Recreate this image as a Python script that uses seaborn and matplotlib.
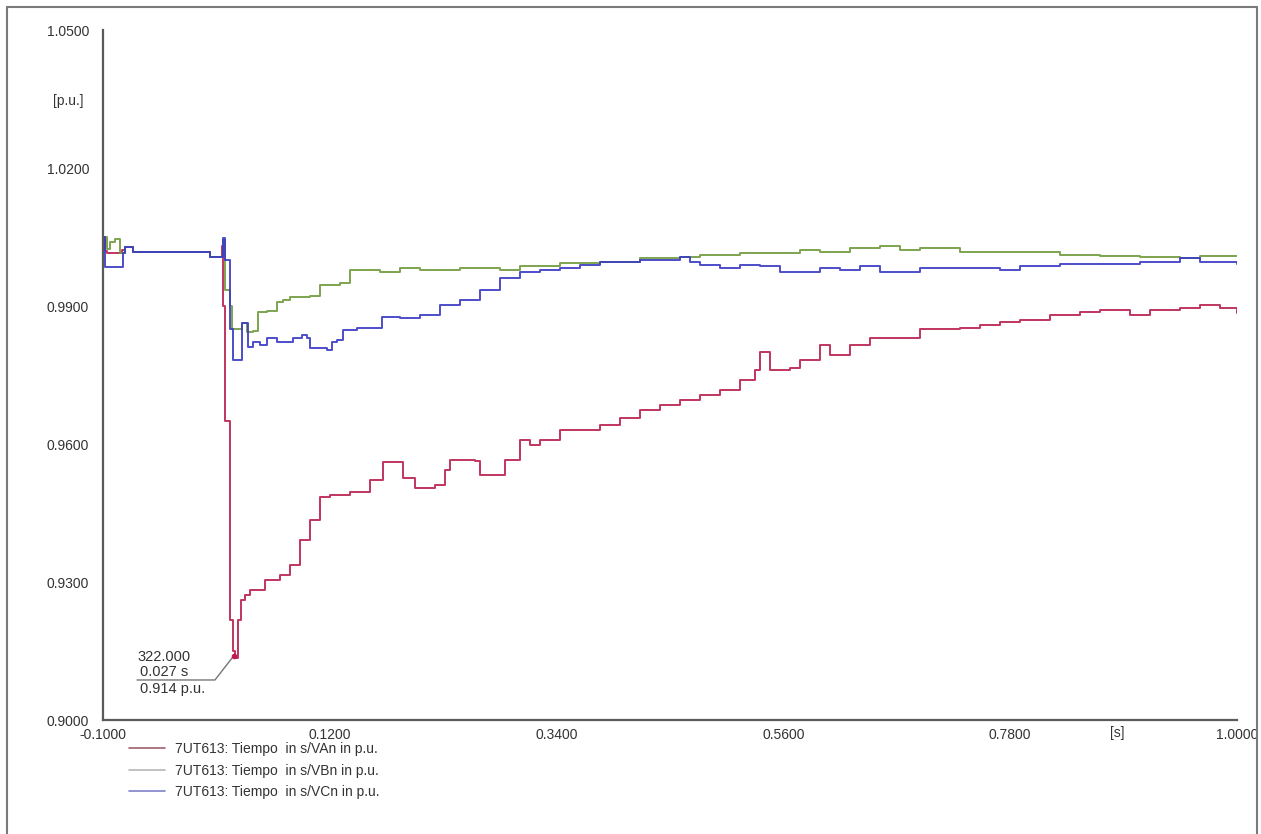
import numpy as np
import pandas as pd
import matplotlib
matplotlib.use("Agg")
import matplotlib.pyplot as plt
from matplotlib.lines import Line2D
import seaborn as sns

# ---------------- data ----------------
t_van = [-0.1, -0.0981, -0.0961, -0.0864, -0.0815, -0.0787, -0.0709, -0.003, 0.0038, 0.0135,
         0.0154, 0.0164, 0.0183, 0.0232, 0.0261, 0.028, 0.0309, 0.0338, 0.0377, 0.0426,
         0.0571, 0.0717, 0.0814, 0.0911, 0.1008, 0.1105, 0.1202, 0.1396, 0.159, 0.1716,
         0.191, 0.2026, 0.222, 0.2317, 0.2366, 0.2608, 0.2657, 0.2899, 0.3045, 0.3142,
         0.3239, 0.3433, 0.3627, 0.3821, 0.4015, 0.4208, 0.4402, 0.4597, 0.479, 0.4985,
         0.5178, 0.5324, 0.5372, 0.5469, 0.5663, 0.576, 0.5954, 0.6051, 0.6245, 0.6439,
         0.673, 0.6924, 0.7118, 0.7312, 0.7506, 0.77, 0.7894, 0.8185, 0.8476, 0.867,
         0.8961, 0.9155, 0.9446, 0.964, 0.9834, 1.0]
v_van = [1.005, 1.002, 1.0015, 1.0015, 1.0022, 1.0028, 1.0017, 1.0017, 1.0007, 1.0007,
         1.003, 0.99, 0.965, 0.9217, 0.915, 0.9135, 0.9217, 0.9261, 0.9272, 0.9283,
         0.9304, 0.9315, 0.9337, 0.9391, 0.9435, 0.9485, 0.9489, 0.9495, 0.9522, 0.9561,
         0.9526, 0.9504, 0.951, 0.9543, 0.9565, 0.9562, 0.9533, 0.9565, 0.9609, 0.9598,
         0.9609, 0.963, 0.963, 0.9641, 0.9657, 0.9674, 0.9685, 0.9696, 0.9707, 0.9717,
         0.9739, 0.9761, 0.98, 0.9761, 0.9765, 0.9783, 0.9815, 0.9793, 0.9815, 0.983,
         0.983, 0.985, 0.985, 0.9852, 0.9859, 0.9865, 0.987, 0.988, 0.9887, 0.9891,
         0.988, 0.9891, 0.9896, 0.9902, 0.9896, 0.9885]

t_vbn = [-0.1, -0.0961, -0.0932, -0.0884, -0.0835, -0.0787, -0.0709, -0.003, 0.0038, 0.0135,
         0.0164, 0.0183, 0.0232, 0.0251, 0.0348, 0.0397, 0.0455, 0.0503, 0.0591, 0.0688,
         0.0746, 0.0814, 0.1008, 0.1105, 0.1299, 0.1396, 0.1687, 0.1881, 0.2075, 0.2269,
         0.2463, 0.2657, 0.2851, 0.3045, 0.3433, 0.3821, 0.4208, 0.4597, 0.479, 0.5178,
         0.5372, 0.576, 0.5954, 0.6245, 0.6536, 0.673, 0.6924, 0.7312, 0.77, 0.7991,
         0.8282, 0.867, 0.9058, 0.9446, 0.964, 1.0]
v_vbn = [1.005, 1.0025, 1.004, 1.0045, 1.0015, 1.0028, 1.0017, 1.0017, 1.0007, 1.0007,
         1.0043, 0.9935, 0.99, 0.985, 0.9863, 0.9843, 0.9845, 0.9887, 0.9889, 0.9909,
         0.9913, 0.992, 0.9922, 0.9946, 0.995, 0.9978, 0.9974, 0.9983, 0.9978, 0.9978,
         0.9983, 0.9983, 0.9978, 0.9987, 0.9993, 0.9996, 1.0004, 1.0007, 1.0011, 1.0015,
         1.0015, 1.0022, 1.0017, 1.0026, 1.003, 1.0022, 1.0026, 1.0017, 1.0017, 1.0017,
         1.0011, 1.0009, 1.0007, 1.0004, 1.0009, 1.0009]

t_vcn = [-0.1, -0.0981, -0.0815, -0.0806, -0.0787, -0.0709, -0.003, 0.0038, 0.0135, 0.0164,
         0.0183, 0.0232, 0.0261, 0.0348, 0.0406, 0.0455, 0.0523, 0.0591, 0.0688, 0.0785,
         0.0843, 0.093, 0.0979, 0.1008, 0.1173, 0.1221, 0.127, 0.1328, 0.1464, 0.1658,
         0.1706, 0.1881, 0.2075, 0.2269, 0.2463, 0.2657, 0.2851, 0.3045, 0.3239, 0.3433,
         0.3627, 0.3821, 0.4208, 0.4597, 0.4693, 0.479, 0.4985, 0.5178, 0.5372, 0.5566,
         0.576, 0.5954, 0.6148, 0.6342, 0.6536, 0.673, 0.6924, 0.7312, 0.77, 0.7894,
         0.8282, 0.867, 0.9058, 0.9446, 0.964, 1.0]
v_vcn = [1.005, 0.9985, 0.9985, 1.0015, 1.0028, 1.0017, 1.0017, 1.0007, 1.0007, 1.0048,
         1.0, 0.985, 0.9783, 0.9863, 0.981, 0.9822, 0.9815, 0.983, 0.9822, 0.9822,
         0.983, 0.9837, 0.983, 0.9809, 0.9804, 0.9822, 0.9826, 0.9848, 0.9852, 0.9852,
         0.9876, 0.9874, 0.988, 0.9902, 0.9913, 0.9935, 0.9961, 0.9974, 0.9978, 0.9983,
         0.9989, 0.9996, 1.0, 1.0007, 0.9996, 0.9989, 0.9983, 0.9989, 0.9987, 0.9974,
         0.9974, 0.9983, 0.9978, 0.9987, 0.9974, 0.9974, 0.9983, 0.9983, 0.9978, 0.9987,
         0.9991, 0.9991, 0.9996, 1.0004, 0.9996, 0.9991]

series_names = ["7UT613: Tiempo  in s/VAn in p.u.",
                "7UT613: Tiempo  in s/VBn in p.u.",
                "7UT613: Tiempo  in s/VCn in p.u."]
x_ticks = [-0.1, 0.12, 0.34, 0.56, 0.78, 1.0]
x_tick_labels = ["-0.1000", "0.1200", "0.3400", "0.5600", "0.7800", "1.0000"]
y_ticks = [0.90, 0.93, 0.96, 0.99, 1.02, 1.05]
y_tick_labels = ["0.9000", "0.9300", "0.9600", "0.9900", "1.0200", "1.0500"]
marker_t, marker_v, marker_n = 0.027, 0.914, 322.000

# ---------------- styling ----------------
sns.set_theme(style="white")
plt.rcParams["font.family"] = ["Liberation Sans", "DejaVu Sans"]

line_colors = ["#b8204e", "#6f9a3c", "#3a3ac4"]
legend_colors = ["#a0606c", "#b4b8b4", "#8080c8"]
text_col = "#333333"
axis_col = "#5a5a5a"

W, H = 1261, 834
fig = plt.figure(figsize=(W / 100, H / 100), dpi=100)
ax = fig.add_axes([103 / W, 1 - 720 / H, (1237 - 103) / W, (720 - 30) / H])

frames = [
    pd.DataFrame({"t": t_van, "v": v_van}),
    pd.DataFrame({"t": t_vbn, "v": v_vbn}),
    pd.DataFrame({"t": t_vcn, "v": v_vcn}),
]
for df, c in zip(frames, line_colors):
    sns.lineplot(data=df, x="t", y="v", ax=ax, color=c, lw=1.4, estimator=None,
                 sort=False, drawstyle="steps-post", alpha=0.9)

ax.set_xlim(-0.1, 1.0)
ax.set_ylim(0.9, 1.05)
ax.set_xticks(x_ticks)
ax.set_xticklabels(x_tick_labels)
ax.set_yticks(y_ticks)
ax.set_yticklabels(y_tick_labels)
ax.set_xticks(np.arange(-0.1, 1.0001, 0.022), minor=True)
ax.tick_params(axis="x", which="major", length=0, pad=6, labelsize=10, labelcolor=text_col)
ax.tick_params(axis="x", which="minor", length=3, direction="in", color="#c8c8c8", width=1)
ax.tick_params(axis="y", length=0, pad=10, labelsize=10, labelcolor=text_col)
ax.set_xlabel("")
ax.set_ylabel("")
for s in ["top", "right"]:
    ax.spines[s].set_visible(False)
for s in ["left", "bottom"]:
    ax.spines[s].set_color(axis_col)
    ax.spines[s].set_linewidth(1.6)
ax.grid(False)

# marker annotation
ax.plot([marker_t], [marker_v], marker="o", ms=3, color="#c01850", zorder=5)
ax.plot([-0.067, 0.0086, marker_t], [0.9087, 0.9087, marker_v], color="#777777", lw=1.0, zorder=4)
ax.text(-0.067, 0.9137, f"{marker_n:.3f}", fontsize=10.5, color=text_col, va="center", ha="left")
ax.text(-0.064, 0.9104, f"{marker_t:.3f} s", fontsize=10.5, color=text_col, va="center", ha="left")
ax.text(-0.064, 0.9067, f"{marker_v:.3f} p.u.", fontsize=10.5, color=text_col, va="center", ha="left")

# unit labels
fig.text(68 / W, 1 - 101 / H, "[p.u.]", fontsize=10, color=text_col, ha="center", va="center")
fig.text(1117 / W, 1 - 733 / H, "[s]", fontsize=10, color=text_col, ha="center", va="center")

# legend
handles = [Line2D([0], [0], color=c, lw=1.2) for c in legend_colors]
fig.legend(handles, series_names, loc="upper left", bbox_to_anchor=(129 / W, 1 - 742 / H),
           frameon=False, fontsize=10, handlelength=2.6, handletextpad=0.7,
           labelspacing=0.55, borderpad=0, borderaxespad=0, labelcolor=text_col)

# outer frame
frame_kw = dict(color="#7a7a7a", lw=1.5, transform=fig.transFigure)
fig.add_artist(Line2D([7 / W, 7 / W], [0, 1 - 7 / H], **frame_kw))
fig.add_artist(Line2D([7 / W, 1257 / W], [1 - 7 / H, 1 - 7 / H], **frame_kw))
fig.add_artist(Line2D([1257 / W, 1257 / W], [0, 1 - 7 / H], **frame_kw))

fig.savefig("out.png", dpi=100)
